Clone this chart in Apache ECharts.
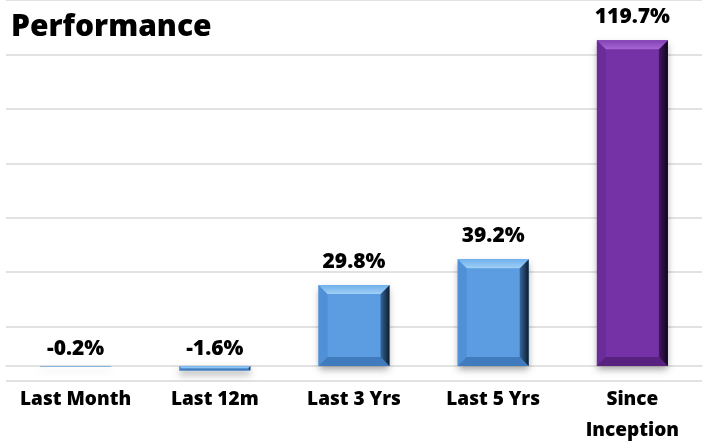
<!DOCTYPE html>
<html>
<head>
<meta charset="utf-8">
<script src="https://cdn.jsdelivr.net/npm/echarts@6/dist/echarts.min.js"></script>
<style>
  html, body { margin: 0; padding: 0; background: #fff; }
  #chart { width: 708px; height: 442px; }
</style>
</head>
<body>
<div id="chart"></div>
<script>
// performance figures, in percent
var categories = ['Last Month', 'Last 12m', 'Last 3 Yrs', 'Last 5 Yrs', 'Since\nInception'];
var returns = [-0.2, -1.6, 29.8, 39.2, 119.7];

var blue = { face: '#5b9de0', top: ['#6fb0ec', '#a0d0f6'], left: '#4f90d6', right: ['#35679e', '#0e1c2c'], bottom: '#3f7bbd' };
var purple = { face: '#7432a6', top: ['#8242b4', '#a766d2'], left: '#6a2c98', right: ['#401760', '#12051e'], bottom: '#58207f' };

function grad(x, y, x2, y2, c) {
  return new echarts.graphic.LinearGradient(x, y, x2, y2, [{offset: 0, color: c[0]}, {offset: 1, color: c[1]}]);
}

function renderBar(params, api) {
  var v = api.value(1);
  var top = api.coord([api.value(0), Math.max(v, 0)]);
  var bot = api.coord([api.value(0), Math.min(v, 0)]);
  var bw = api.size([1, 0])[0] * 0.51;
  var x0 = top[0] - bw / 2, x1 = x0 + bw, y0 = top[1], y1 = bot[1];
  var b = Math.min(9, (y1 - y0) / 2, bw / 2);
  var c = params.dataIndex === categories.length - 1 ? purple : blue;
  var kids = [
    { type: 'rect', shape: { x: x0, y: y0, width: bw, height: Math.max(y1 - y0, 0.5) },
      style: { fill: c.face, shadowBlur: 7, shadowOffsetY: 4, shadowColor: 'rgba(0,0,0,0.35)' } },
    { type: 'polygon', shape: { points: [[x0, y0], [x0 + b, y0 + b], [x0 + b, y1 - b], [x0, y1]] }, style: { fill: c.left } },
    { type: 'polygon', shape: { points: [[x0, y1], [x1, y1], [x1 - b, y1 - b], [x0 + b, y1 - b]] }, style: { fill: c.bottom } },
    { type: 'polygon', shape: { points: [[x1, y0], [x1, y1], [x1 - b, y1 - b], [x1 - b, y0 + b]] }, style: { fill: grad(0, 0, 1, 0, c.right) } },
    { type: 'polygon', shape: { points: [[x0, y0], [x1, y0], [x1 - b, y0 + b], [x0 + b, y0 + b]] }, style: { fill: grad(0, 0, 0, 1, c.top) } },
    { type: 'text', style: {
        text: v.toFixed(1) + '%', x: top[0], y: y0 - (v >= 0 ? 23 : 17),
        align: 'center', verticalAlign: 'middle',
        font: '800 21px "Open Sans"', fill: '#000' } }
  ];
  return { type: 'group', children: kids };
}

var myChart = echarts.init(document.getElementById('chart'));
var option = {
  animation: false,
  title: {
    text: 'Performance', left: 6, top: 7,
    textStyle: { fontFamily: 'Open Sans', fontWeight: 800, fontSize: 30, color: '#000' }
  },
  grid: { left: 6, right: 6, top: 0, bottom: 61, outerBoundsMode: 'none', containLabel: false },
  xAxis: {
    type: 'category',
    data: categories,
    axisTick: { show: false },
    axisLine: { lineStyle: { color: '#d9d9d9', width: 1.5 } },
    axisLabel: {
      interval: 0, margin: 3, color: '#000',
      fontFamily: 'Open Sans', fontWeight: 800, fontSize: 19, lineHeight: 31
    }
  },
  yAxis: [
    { type: 'value', min: -5.5, max: 134.5, show: true,
      axisLabel: { show: false }, axisLine: { show: false }, axisTick: { show: false },
      splitLine: { show: false } },
    // only draws the gridlines
    { type: 'value', min: 0, max: 140, interval: 20,
      axisLabel: { show: false }, axisLine: { show: false }, axisTick: { show: false },
      splitLine: { show: true, lineStyle: { color: '#d9d9d9', width: 1.5 } } }
  ],
  series: [{
    type: 'custom',
    yAxisIndex: 0,
    renderItem: renderBar,
    encode: { x: 0, y: 1 },
    data: returns.map(function (v, i) { return [i, v]; }),
    z: 3
  }]
};
myChart.setOption(option);
</script>
</body>
</html>
